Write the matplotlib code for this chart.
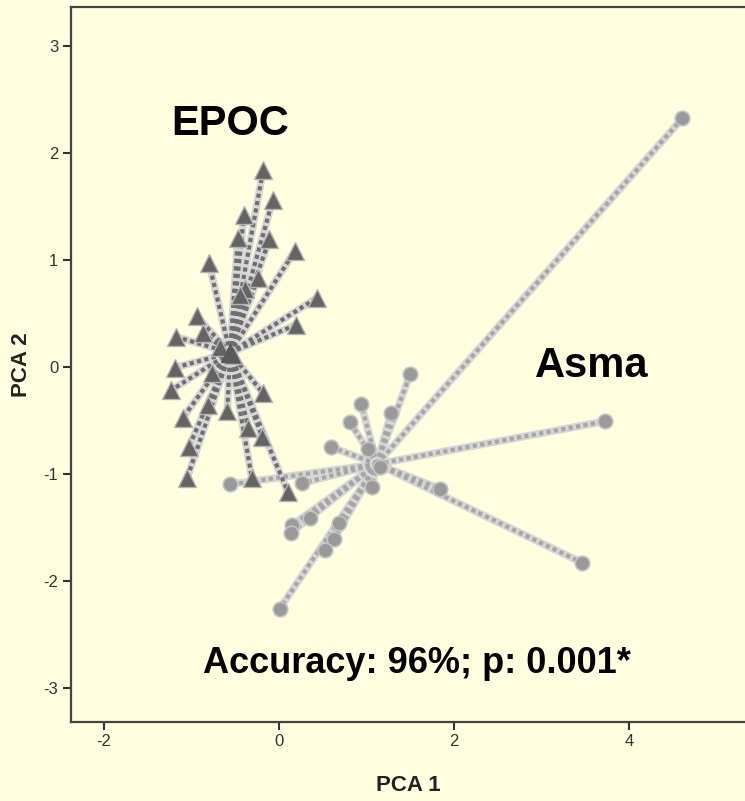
import matplotlib
matplotlib.use("Agg")
import matplotlib.pyplot as plt

# ---- data ----
epoc_x = [-0.18, -0.07, -0.40, -0.47, -0.11, 0.18, -0.80, -0.24, -0.39, -0.45,
          0.43, -0.94, 0.19, -0.87, -1.18, -0.67, -0.53, -1.19, -0.77, -1.23,
          -0.18, -0.81, -0.59, -1.10, -0.35, -0.19, -1.03, -1.05, -0.31, 0.10]
epoc_y = [1.84, 1.56, 1.42, 1.20, 1.19, 1.08, 0.97, 0.83, 0.73, 0.67,
          0.64, 0.47, 0.39, 0.31, 0.28, 0.18, 0.11, -0.01, -0.06, -0.22,
          -0.25, -0.36, -0.41, -0.48, -0.57, -0.66, -0.75, -1.04, -1.04, -1.17]
epoc_centroid = (-0.56, 0.13)

asma_x = [4.61, 3.73, 3.46, 1.84, 1.50, 0.94, 1.28, 0.81, 0.59, 1.02,
          1.06, 0.26, -0.56, 0.35, 0.15, 0.14, 0.69, 0.63, 0.53, 0.01, 1.15]
asma_y = [2.32, -0.51, -1.83, -1.14, -0.07, -0.35, -0.43, -0.52, -0.75, -0.77,
          -1.12, -1.09, -1.10, -1.41, -1.48, -1.55, -1.46, -1.61, -1.71, -2.26, -0.94]
asma_centroid = (1.12, -0.91)

x_ticks = [-2, 0, 2, 4]
y_ticks = [-3, -2, -1, 0, 1, 2, 3]
group_labels = ["EPOC", "Asma"]
annotation = "Accuracy: 96%; p: 0.001*"
x_label = "PCA 1"
y_label = "PCA 2"

# ---- style ----
BG = "#FFFFE0"
plt.rcParams["font.family"] = ["Liberation Sans", "DejaVu Sans"]

fig = plt.figure(figsize=(7.45, 8.01), dpi=100, facecolor=BG)
ax = fig.add_axes([71 / 745, 79 / 801, 674 / 745, 715 / 801])
ax.set_facecolor(BG)
ax.set_xlim(-2.377, 5.326)
ax.set_ylim(-3.32, 3.36)


def spokes(xs, ys, c, dash_color):
    cx, cy = c
    for x, y in zip(xs, ys):
        ax.plot([cx, x], [cy, y], color="#d6d6d6", lw=5.5,
                solid_capstyle="round", zorder=2)
    for x, y in zip(xs, ys):
        ax.plot([cx, x], [cy, y], color=dash_color, lw=3.0,
                dashes=(1.0, 0.8), zorder=2.1)


spokes(epoc_x, epoc_y, epoc_centroid, "#6f6f6f")
spokes(asma_x, asma_y, asma_centroid, "#a6a6a6")

ax.plot(epoc_x, epoc_y, linestyle="none", marker="^", markersize=12.5,
        markerfacecolor="#646464", markeredgecolor="#b4b4b4",
        markeredgewidth=1.0, zorder=3)
ax.plot([epoc_centroid[0]], [epoc_centroid[1]], linestyle="none", marker="^",
        markersize=12.5, markerfacecolor="#5a5a5a", markeredgecolor="#5a5a5a",
        zorder=3)
ax.plot(asma_x, asma_y, linestyle="none", marker="o", markersize=10.5,
        markerfacecolor="#9a9a9a", markeredgecolor="#c4c4c4",
        markeredgewidth=1.2, zorder=3)

# texts
ax.text(-0.56, 2.16, group_labels[0], fontsize=30, fontweight="bold",
        ha="center", va="baseline", color="black", zorder=4)
ax.text(3.57, -0.10, group_labels[1], fontsize=30, fontweight="bold",
        ha="center", va="baseline", color="black", zorder=4)
ax.text(1.58, -2.86, annotation, fontsize=26, fontweight="bold",
        ha="center", va="baseline", color="black", zorder=4)

# axes
for s in ["right"]:
    ax.spines[s].set_visible(False)
for s in ["left", "bottom", "top"]:
    ax.spines[s].set_color("#444444")
    ax.spines[s].set_linewidth(1.6)

ax.set_xticks(x_ticks)
ax.set_xticklabels([str(v) for v in x_ticks])
ax.set_yticks(y_ticks)
ax.set_yticklabels([str(v) for v in y_ticks])
ax.tick_params(axis="both", direction="out", length=6, width=1.5,
               color="#333333", labelsize=12, labelcolor="#333333", pad=3)

ax.set_xlabel(x_label, fontsize=16, fontweight="bold", color="#222222", va="center")
ax.set_ylabel(y_label, fontsize=16, fontweight="bold", color="#222222", va="center")
ax.xaxis.set_label_coords(0.501, -0.0895)
ax.yaxis.set_label_coords(-0.074, 0.5)

fig.savefig("out.png", dpi=100, facecolor=BG)
